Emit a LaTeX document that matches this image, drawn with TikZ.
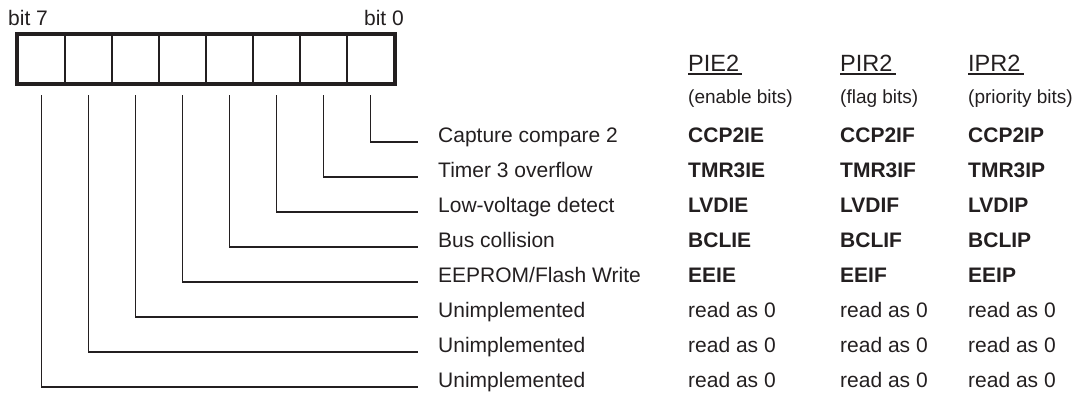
\documentclass[tikz,border=0pt]{standalone}
\usepackage{fontspec}
\setmainfont{Liberation Sans}
\definecolor{ink}{RGB}{35,31,32}
\begin{document}
\begin{tikzpicture}[x=1pt,y=-1pt,
  font=\fontsize{21}{24}\selectfont,
  txt/.style={anchor=base west, inner sep=0pt, text=ink},
  txtr/.style={anchor=base east, inner sep=0pt, text=ink},
  bold/.style={txt, font=\fontsize{21}{24}\selectfont\bfseries},
  head/.style={txt, font=\fontsize{23.5}{26}\selectfont},
  sub/.style={txt, font=\fontsize{19}{22}\selectfont},
  cell/.style={draw=ink, line width=2.6pt, minimum width=47pt, minimum height=48pt, inner sep=0pt},
  lead/.style={draw=ink, line width=1.8pt},
  uline/.style={draw=ink, line width=1.4pt}]
\useasboundingbox (0,0) rectangle (1082,392);

% register cells
\foreach \k in {0,...,7} {
  \node[cell] (b\k) at ({370.5-47*\k},59) {};
}
\draw[ink, line width=3.2pt] (b7.north west) rectangle (b0.south east);

\node[txt]  (bit7) at (8,25) {bit 7};
\node[txtr] (bit0) at (404,25) {bit 0};

% headers
\node[head] (h1) at (688,71) {PIE2};
\node[head] (h2) at (840,71) {PIR2};
\node[head] (h3) at (968,71) {IPR2};
\foreach \h in {h1,h2,h3} {
  \draw[uline] ([yshift=-3pt]\h.base west) -- ([shift={(3pt,-3pt)}]\h.base east);
}
\node[sub] (s1) at (688,103) {(enable bits)};
\node[sub] (s2) at (840,103) {(flag bits)};
\node[sub] (s3) at (968,103) {(priority bits)};

% row labels
\node[txt] (n0) at (438,142) {Capture compare 2};
\node[txt] (n1) at (438,177) {Timer 3 overflow};
\node[txt] (n2) at (438,212) {Low-voltage detect};
\node[txt] (n3) at (438,247) {Bus collision};
\node[txt] (n4) at (438,282) {EEPROM/Flash Write};
\node[txt] (n5) at (438,317) {Unimplemented};
\node[txt] (n6) at (438,352) {Unimplemented};
\node[txt] (n7) at (438,387) {Unimplemented};

\node[bold] (e0) at (688,142) {CCP2IE};
\node[bold] (f0) at (840,142) {CCP2IF};
\node[bold] (p0) at (968,142) {CCP2IP};
\node[bold] (e1) at (688,177) {TMR3IE};
\node[bold] (f1) at (840,177) {TMR3IF};
\node[bold] (p1) at (968,177) {TMR3IP};
\node[bold] (e2) at (688,212) {LVDIE};
\node[bold] (f2) at (840,212) {LVDIF};
\node[bold] (p2) at (968,212) {LVDIP};
\node[bold] (e3) at (688,247) {BCLIE};
\node[bold] (f3) at (840,247) {BCLIF};
\node[bold] (p3) at (968,247) {BCLIP};
\node[bold] (e4) at (688,282) {EEIE};
\node[bold] (f4) at (840,282) {EEIF};
\node[bold] (p4) at (968,282) {EEIP};
\foreach \r/\y in {5/317,6/352,7/387} {
  \node[txt] (e\r) at (688,\y) {read as 0};
  \node[txt] (f\r) at (840,\y) {read as 0};
  \node[txt] (p\r) at (968,\y) {read as 0};
}

% leader lines
\foreach \k in {0,...,7} {
  \coordinate (top\k) at ({370.5-47*\k},95);
  \coordinate (end\k) at (418,{142+35*\k});
  \draw[lead] (top\k) |- (end\k);
}
\end{tikzpicture}
\end{document}
